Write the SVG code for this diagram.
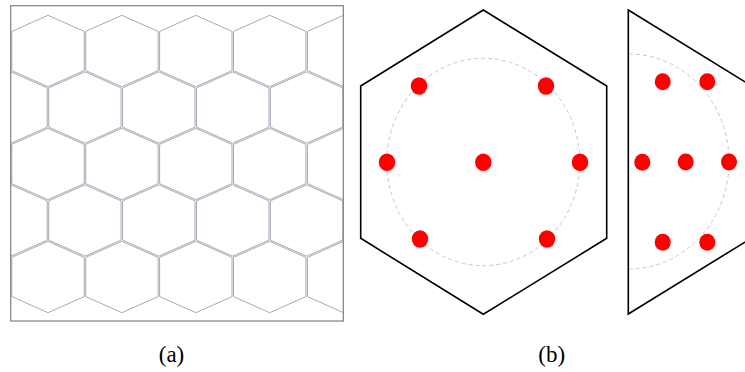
<svg xmlns="http://www.w3.org/2000/svg" xmlns:xlink="http://www.w3.org/1999/xlink" width="745" height="372" viewBox="0 0 745 372">
<style>
.hx{fill:none;stroke:#a3aab5;stroke-width:1}
.frame{fill:none;stroke:#7f7f7f;stroke-width:1.2}
.outline{fill:none;stroke:#000;stroke-width:1.6;stroke-linejoin:miter}
.dash{fill:none;stroke:#c8c8c8;stroke-width:1;stroke-dasharray:4 3}
.dot{fill:#ff0000}
.lbl{font-family:"Liberation Serif","DejaVu Serif",serif;font-size:23px;fill:#000;text-anchor:middle}
</style>
<defs>
<polygon id="h" class="hx" points="0,-35.7 36.2,-19.6 36.2,19.6 0,35.7 -36.2,19.6 -36.2,-19.6"/>
<clipPath id="clipA"><rect x="10.7" y="5.7" width="332.6" height="315.3"/></clipPath>
<clipPath id="clipC"><rect x="600" y="0" width="145" height="372"/></clipPath>
</defs>
<g id="panel-a">
<g clip-path="url(#clipA)">
<use href="#h" x="48" y="51"/><use href="#h" x="121.9" y="51"/><use href="#h" x="195.8" y="51"/><use href="#h" x="269.7" y="51"/><use href="#h" x="343.6" y="51"/>
<use href="#h" x="11" y="107.5"/><use href="#h" x="84.9" y="107.5"/><use href="#h" x="158.8" y="107.5"/><use href="#h" x="232.7" y="107.5"/><use href="#h" x="306.6" y="107.5"/>
<use href="#h" x="48" y="164"/><use href="#h" x="121.9" y="164"/><use href="#h" x="195.8" y="164"/><use href="#h" x="269.7" y="164"/><use href="#h" x="343.6" y="164"/>
<use href="#h" x="11" y="220.5"/><use href="#h" x="84.9" y="220.5"/><use href="#h" x="158.8" y="220.5"/><use href="#h" x="232.7" y="220.5"/><use href="#h" x="306.6" y="220.5"/>
<use href="#h" x="48" y="277"/><use href="#h" x="121.9" y="277"/><use href="#h" x="195.8" y="277"/><use href="#h" x="269.7" y="277"/><use href="#h" x="343.6" y="277"/>
</g>
<rect class="frame" x="10.7" y="5.7" width="332.6" height="315.3"/>
</g>
<g id="panel-b">
<polygon class="outline" points="483.3,10 606.7,86 606.7,238.3 483.3,314.3 360.7,238.3 360.7,86"/>
<ellipse class="dash" cx="483.3" cy="162" rx="96.5" ry="103.7"/>
<ellipse class="dot" cx="483.3" cy="162.3" rx="8.2" ry="8.8"/>
<ellipse class="dot" cx="387" cy="162.3" rx="8.2" ry="8.8"/>
<ellipse class="dot" cx="580" cy="162.3" rx="8.2" ry="8.8"/>
<ellipse class="dot" cx="419" cy="86" rx="8.2" ry="8.8"/>
<ellipse class="dot" cx="546" cy="86" rx="8.2" ry="8.8"/>
<ellipse class="dot" cx="420" cy="239" rx="8.2" ry="8.8"/>
<ellipse class="dot" cx="547" cy="239" rx="8.2" ry="8.8"/>
</g>
<g id="panel-c" clip-path="url(#clipC)">
<polygon class="outline" points="628.3,10 751.6,86 751.6,238 628.3,314"/>
<path class="dash" d="M629,54 A100,107.5 0 0 1 629,269"/>
<ellipse class="dot" cx="662.7" cy="81.7" rx="8" ry="8.5"/>
<ellipse class="dot" cx="707.3" cy="81.7" rx="8" ry="8.5"/>
<ellipse class="dot" cx="642.3" cy="162.3" rx="8" ry="8.5"/>
<ellipse class="dot" cx="685.7" cy="162" rx="8" ry="8.5"/>
<ellipse class="dot" cx="729" cy="162" rx="8" ry="8.5"/>
<ellipse class="dot" cx="662.7" cy="242.3" rx="8" ry="8.5"/>
<ellipse class="dot" cx="707.3" cy="242.3" rx="8" ry="8.5"/>
</g>
<g id="labels">
<text class="lbl" x="171.5" y="362">(a)</text>
<text class="lbl" x="551.7" y="362">(b)</text>
</g>
</svg>
